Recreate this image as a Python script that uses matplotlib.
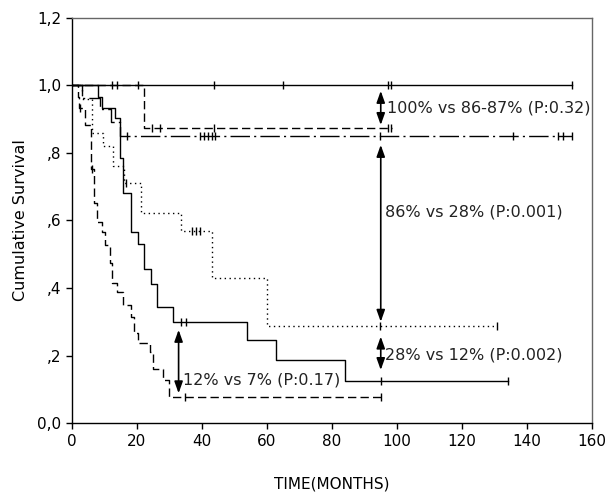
import numpy as np
import matplotlib
matplotlib.use('Agg')
import matplotlib.pyplot as plt

# Curvas de supervivencia (tiempo de evento, supervivencia tras el evento)
top_solid_t = [0, 153.7]
top_solid_s = [1.0, 1.0]
top_solid_c = [12.2, 13.7, 20.4, 43.7, 65, 97.1, 98.3, 153.7]

top_dash_t = [0, 22, 98.5]
top_dash_s = [1.0, 0.875, 0.875]
top_dash_c = [24.5, 27, 43.7, 97.2, 98.3]

dashdot_t = [0, 3, 8.5, 12, 14.8, 153.7]
dashdot_s = [1.0, 0.964, 0.929, 0.893, 0.851, 0.851]
dashdot_c = [17, 39.5, 40.7, 41.8, 43, 44, 94.8, 135.6, 149.5, 151, 153.7]

dotted_t = [0, 3, 6.3, 9.5, 12.5, 16, 21.2, 33.5, 43, 60.1, 130.8]
dotted_s = [1.0, 0.96, 0.86, 0.82, 0.76, 0.712, 0.621, 0.569, 0.429, 0.287, 0.287]
dotted_c = [16.5, 36.8, 38.1, 39.4, 94.8, 130.8]

low_solid_t = [0, 8, 9.1, 13.1, 14.9, 15.8, 18.2, 20.4, 22.1, 24.2, 26.2, 31.2, 53.7, 62.8, 84, 134]
low_solid_s = [1.0, 0.967, 0.933, 0.903, 0.785, 0.681, 0.567, 0.530, 0.455, 0.412, 0.343, 0.300,
               0.246, 0.187, 0.124, 0.124]
low_solid_c = [33.5, 35, 95, 134]

low_dash_t = [0, 1.8, 2.2, 4.0, 5.9, 6.8, 7.8, 9.3, 10.2, 11.7, 12.4, 13.9, 15.8, 18.2, 19.1,
              20.4, 24, 24.8, 27.9, 29.9, 95]
low_dash_s = [1.0, 0.967, 0.933, 0.883, 0.753, 0.651, 0.596, 0.567, 0.527, 0.473, 0.414, 0.387,
              0.350, 0.315, 0.266, 0.236, 0.211, 0.160, 0.127, 0.078, 0.078]
low_dash_c = [2.6, 6.2, 34.8, 95]

# Comparaciones
comp_text = ['100% vs 86-87% (P:0.32)', '86% vs 28% (P:0.001)', '28% vs 12% (P:0.002)', '12% vs 7% (P:0.17)']
comp_x = [95, 95, 95, 32.8]
comp_top = [0.984, 0.824, 0.256, 0.276]
comp_bottom = [0.883, 0.300, 0.157, 0.088]
text_x = [96.8, 96.3, 96.3, 34.3]
text_y = [0.933, 0.625, 0.200, 0.127]


def surv_at(t, s, c):
    idx = np.searchsorted(t, c, side='right') - 1
    return np.array(s)[idx]


fig = plt.figure(figsize=(6.16, 5.0), dpi=100)
ax = fig.add_axes([72 / 616, 77 / 500, 520 / 616, 405 / 500])

curvas = [
    (top_solid_t, top_solid_s, top_solid_c, '-'),
    (top_dash_t, top_dash_s, top_dash_c, (0, (6, 3))),
    (dashdot_t, dashdot_s, dashdot_c, (0, (14, 3, 1.5, 3))),
    (dotted_t, dotted_s, dotted_c, (0, (1, 2.5))),
    (low_solid_t, low_solid_s, low_solid_c, '-'),
    (low_dash_t, low_dash_s, low_dash_c, (0, (6, 3))),
]

for t, s, c, ls in curvas:
    ax.step(t, s, where='post', color='black', lw=1.0, linestyle=ls)
    ax.plot(c, surv_at(t, s, c), linestyle='none', marker='|', markersize=6,
            markeredgewidth=1.0, color='black')

for i in range(len(comp_text)):
    ax.annotate('', xy=(comp_x[i], comp_bottom[i]), xytext=(comp_x[i], comp_top[i]),
                arrowprops=dict(arrowstyle='<|-|>,head_length=0.7,head_width=0.25',
                                color='black', lw=1.2, shrinkA=0, shrinkB=0))
    ax.text(text_x[i], text_y[i], comp_text[i], fontsize=11.5, va='center', ha='left', color='#222222')

ax.set_xlim(0, 160)
ax.set_ylim(0, 1.2)
ax.set_xticks(range(0, 161, 20))
ax.set_yticks([0, 0.2, 0.4, 0.6, 0.8, 1.0, 1.2])
ax.set_yticklabels(['0,0', ',2', ',4', ',6', ',8', '1,0', '1,2'])
ax.tick_params(direction='out', length=4, width=1, labelsize=11, colors='black')
ax.tick_params(axis='x', pad=4)

ax.set_xlabel('TIME(MONTHS)', fontsize=11, labelpad=20)
ax.set_ylabel('Cumulative Survival', fontsize=11.5, labelpad=7)

for sp in ax.spines.values():
    sp.set_linewidth(1.0)
    sp.set_color('black')
ax.spines['right'].set_color('#666666')
ax.spines['top'].set_color('#666666')

plt.savefig('out.png', dpi=100)
